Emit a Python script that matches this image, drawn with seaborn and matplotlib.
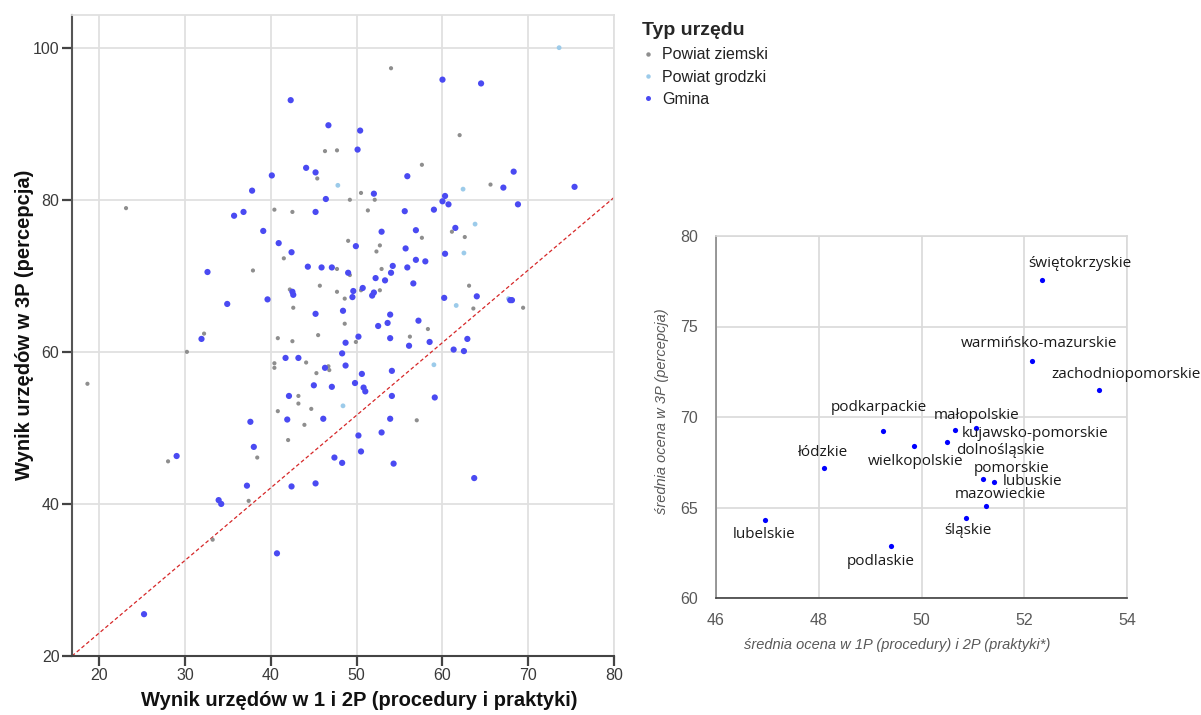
import numpy as np
import pandas as pd
import matplotlib
matplotlib.use("Agg")
import matplotlib.pyplot as plt
from matplotlib.lines import Line2D
import seaborn as sns

# ---------------- Left chart data ----------------
ziemski_x = [54.0, 62.0, 46.3, 47.7, 57.6, 45.4, 65.6, 50.5, 49.2, 52.1, 23.1, 40.4, 42.5, 51.3,
             61.1, 62.6, 57.6, 49.0, 52.7, 52.3, 41.5, 37.9, 47.7, 49.2, 52.9, 63.1, 45.7, 42.2,
             47.7, 52.7, 48.6, 69.4, 42.6, 63.6, 48.6, 58.3, 32.2, 40.8, 45.5, 42.5, 49.9, 56.2,
             30.2, 18.6, 40.4, 40.4, 44.1, 46.7, 46.8, 45.3, 43.2, 43.2, 40.8, 44.7, 57.0, 43.9,
             42.0, 38.4, 28.0, 37.4, 33.2, 50.5]
ziemski_y = [97.3, 88.5, 86.4, 86.5, 84.6, 82.8, 82.0, 80.9, 80.0, 80.0, 78.9, 78.7, 78.4, 78.6,
             75.8, 75.1, 75.0, 74.6, 74.0, 73.2, 72.3, 70.7, 70.9, 70.1, 70.9, 68.7, 68.7, 68.2,
             67.9, 68.1, 67.0, 65.8, 65.8, 65.7, 63.7, 63.0, 62.4, 61.8, 62.2, 61.4, 61.3, 62.0,
             60.0, 55.8, 58.5, 57.9, 58.6, 58.1, 57.6, 57.2, 54.2, 53.2, 52.2, 52.5, 51.0, 50.4,
             48.4, 46.1, 45.6, 40.4, 35.3, 68.1]

grodzki_x = [73.6, 47.8, 62.4, 63.8, 62.5, 61.6, 59.0, 48.4, 67.7]
grodzki_y = [100.0, 81.9, 81.4, 76.8, 73.0, 66.1, 58.3, 52.9, 67.0]

gmina_x = [60.0, 64.5, 42.3, 46.7, 50.4, 50.1, 44.1, 45.2, 40.1, 55.9, 68.3, 67.1, 75.4, 37.8,
           52.0, 46.4, 60.3, 60.0, 60.7, 68.8, 35.7, 36.8, 45.2, 55.6, 59.0, 39.1, 52.9, 56.9,
           61.5, 40.9, 49.9, 55.7, 42.4, 56.9, 58.0, 60.3, 32.6, 44.3, 45.9, 47.1, 49.0, 54.2,
           54.0, 52.2, 53.3, 55.9, 56.6, 42.5, 42.6, 49.6, 50.7, 52.0, 51.8, 49.5, 60.2, 64.0,
           67.9, 68.1, 39.6, 34.9, 45.2, 48.4, 53.9, 53.6, 52.5, 57.2, 31.9, 48.7, 50.2, 53.9,
           56.1, 58.5, 62.9, 61.3, 62.5, 48.3, 41.7, 43.2, 46.3, 48.7, 50.6, 54.1, 45.0, 47.1,
           49.8, 50.8, 51.0, 42.1, 54.1, 59.1, 37.6, 41.9, 46.1, 53.9, 52.9, 50.2, 38.0, 29.0,
           50.5, 47.4, 48.3, 54.3, 63.7, 37.2, 42.4, 45.2, 33.9, 34.2, 40.7, 25.2]
gmina_y = [95.8, 95.3, 93.1, 89.8, 89.1, 86.6, 84.2, 83.6, 83.2, 83.1, 83.7, 81.6, 81.7, 81.2,
           80.8, 80.1, 80.5, 79.8, 79.4, 79.4, 77.9, 78.4, 78.4, 78.5, 78.7, 75.9, 75.8, 76.0,
           76.3, 74.3, 73.9, 73.6, 73.1, 72.1, 71.9, 72.9, 70.5, 71.2, 71.1, 71.1, 70.4, 71.3,
           70.4, 69.7, 69.4, 71.1, 69.0, 67.9, 67.5, 68.0, 68.4, 67.8, 67.4, 67.2, 67.1, 67.3,
           66.8, 66.8, 66.9, 66.3, 65.0, 65.4, 64.9, 63.8, 63.4, 64.1, 61.7, 61.2, 62.0, 61.8,
           60.8, 61.3, 61.7, 60.3, 60.1, 59.8, 59.2, 59.2, 57.9, 58.2, 57.1, 57.5, 55.6, 55.4,
           55.9, 55.3, 54.8, 54.2, 54.2, 54.0, 50.8, 51.1, 51.2, 51.2, 49.4, 49.0, 47.5, 46.3,
           46.9, 46.1, 45.4, 45.3, 43.4, 42.4, 42.3, 42.7, 40.5, 40.0, 33.5, 25.5]

type_labels = ["Powiat ziemski", "Powiat grodzki", "Gmina"]
left_xticks = [20, 30, 40, 50, 60, 70, 80]
left_yticks = [20, 40, 60, 80, 100]
ref_line_x = [16.8, 80.0]
ref_line_y = [20.0, 80.3]

# ---------------- Right chart data ----------------
regions = ["świętokrzyskie", "warmińsko-mazurskie", "zachodniopomorskie", "podkarpackie",
           "małopolskie", "kujawsko-pomorskie", "dolnośląskie", "wielkopolskie", "łódzkie",
           "pomorskie", "lubuskie", "mazowieckie", "śląskie", "lubelskie", "podlaskie"]
region_x = [52.35, 52.15, 53.46, 49.25, 51.06, 50.65, 50.50, 49.86, 48.11,
            51.20, 51.41, 51.26, 50.86, 46.96, 49.40]
region_y = [77.58, 73.09, 71.49, 69.20, 69.40, 69.29, 68.60, 68.38, 67.18,
            66.59, 66.39, 65.11, 64.41, 64.30, 62.90]
right_xticks = [46, 48, 50, 52, 54]
right_yticks = [60, 65, 70, 75, 80]

# label offsets (pixels) – layout only
label_offsets = [(38, 16), (7, 18), (27, 16), (-4, 24), (1, 12), (80, -4), (53, -8),
                 (1, -15), (-2, 16), (28, 10), (39, 1), (14, 11), (2, -12), (-1, -14), (-10, -16)]

# ---------------- Build frames ----------------
df_left = pd.DataFrame({
    "x": ziemski_x + grodzki_x + gmina_x,
    "y": ziemski_y + grodzki_y + gmina_y,
    "typ": [type_labels[0]] * len(ziemski_x) + [type_labels[1]] * len(grodzki_x)
           + [type_labels[2]] * len(gmina_x),
})
df_right = pd.DataFrame({"region": regions, "x": region_x, "y": region_y})

sns.set_theme(style="white")
plt.rcParams["font.family"] = ["Liberation Sans", "DejaVu Sans"]

palette = {type_labels[0]: "#8e8e8e", type_labels[1]: "#9ccbea", type_labels[2]: "#4a4af2"}
sizes = {type_labels[0]: 9, type_labels[1]: 12, type_labels[2]: 20}

fig = plt.figure(figsize=(12.01, 7.15), dpi=100)
W, H = 1201, 715
ax1 = fig.add_axes([72 / W, (H - 656) / H, 542 / W, 641 / H])
ax2 = fig.add_axes([716 / W, (H - 598) / H, 411 / W, 362 / H])

# ---- Left chart ----
ax1.set_axisbelow(True)
sns.scatterplot(data=df_left, x="x", y="y", hue="typ", size="typ", sizes=sizes,
                palette=palette, hue_order=type_labels, linewidth=0, legend=False, ax=ax1,
                zorder=3)
sns.lineplot(x=ref_line_x, y=ref_line_y, ax=ax1, color="#d62728", lw=0.9,
             linestyle=(0, (3, 2)), zorder=2)
ax1.set_xlim(16.8, 80)
ax1.set_ylim(20, 104.3)
ax1.set_xticks(left_xticks)
ax1.set_yticks(left_yticks)
ax1.grid(True, color="#e0e0e0", lw=1.3)
for s in ["top", "right"]:
    ax1.spines[s].set_color("#e0e0e0")
    ax1.spines[s].set_linewidth(1.3)
ax1.spines["left"].set_color("#555555")
ax1.spines["bottom"].set_color("#444444")
ax1.spines["left"].set_linewidth(1.5)
ax1.spines["bottom"].set_linewidth(1.5)
ax1.tick_params(axis="both", direction="out", length=7, width=1.6, color="#444444",
                labelsize=11.5, labelcolor="#3a3a3a", bottom=True, left=True, pad=2)
ax1.set_xlabel("Wynik urzędów w 1 i 2P (procedury i praktyki)", fontsize=14.5,
               fontweight="bold", color="#111111", va="center")
ax1.xaxis.set_label_coords((359 - 72) / 542, (656 - 700) / 641)
ax1.set_ylabel("Wynik urzędów w 3P (percepcja)", fontsize=14.5, fontweight="bold",
               color="#111111", va="center")
ax1.yaxis.set_label_coords((25 - 72) / 542, (656 - 325) / 641)

handles = [Line2D([0], [0], marker="o", linestyle="", markersize=ms, markerfacecolor=palette[t],
                  markeredgewidth=0) for t, ms in zip(type_labels, [3.2, 3.2, 3.6])]
leg = ax1.legend(handles, type_labels, title="Typ urzędu", loc="upper left",
                 bbox_to_anchor=(634 / W, 1 - 14 / H), bbox_transform=fig.transFigure,
                 frameon=False, fontsize=11.5, title_fontsize=14, borderpad=0,
                 handletextpad=0.45, handlelength=0.8, labelspacing=0.45, alignment="left")
leg.get_title().set_fontweight("bold")
leg._legend_box.sep = 6
for t in leg.get_texts():
    t.set_color("#222222")

# ---- Right chart ----
ax2.set_axisbelow(True)
sns.scatterplot(data=df_right, x="x", y="y", color="#0000ff", s=14, linewidth=0, ax=ax2,
                zorder=3)
ax2.set_xlim(46, 54)
ax2.set_ylim(60, 80)
ax2.set_xticks(right_xticks)
ax2.set_yticks(right_yticks)
ax2.grid(True, color="#d9d9d9", lw=1.2)
for s in ["top", "right"]:
    ax2.spines[s].set_color("#d9d9d9")
    ax2.spines[s].set_linewidth(1.2)
ax2.spines["left"].set_color("#8c8c8c")
ax2.spines["bottom"].set_color("#404040")
ax2.spines["bottom"].set_linewidth(1.2)
ax2.tick_params(axis="x", length=0, bottom=False, labelsize=11.5, labelcolor="#595959", pad=11)
ax2.tick_params(axis="y", length=0, left=False, labelsize=11.5, labelcolor="#595959", pad=13)
ax2.set_xlabel("")
ax2.set_ylabel("")
fig.text((716 + 0.44 * 411) / W, 1 - 645 / H,
         "średnia ocena w 1P (procedury) i 2P (praktyki*)", ha="center", va="center",
         fontsize=10.5, style="italic", color="#595959")
fig.text(662 / W, 1 - 411 / H, "średnia ocena w 3P (percepcja)", ha="center", va="center",
         rotation=90, fontsize=10.5, style="italic", color="#595959")

for name, xv, yv, off in zip(regions, region_x, region_y, label_offsets):
    ax2.annotate(name, (xv, yv), xytext=off, textcoords="offset pixels", ha="center",
                 va="center", fontsize=11, color="#1a1a1a",
                 family=["Open Sans", "DejaVu Sans"], zorder=4)

fig.savefig("out.png", dpi=100)
